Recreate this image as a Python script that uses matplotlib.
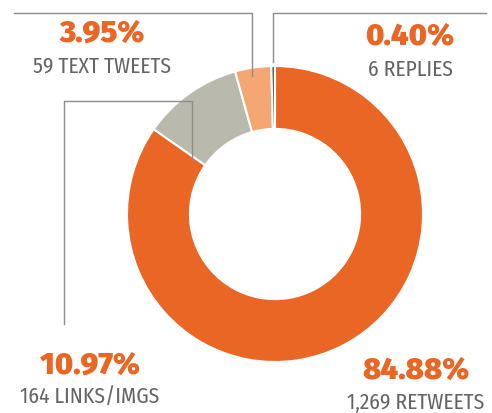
import matplotlib
matplotlib.use('Agg')
from matplotlib import pyplot as plt

# Tweet breakdown
categories = ['RETWEETS', 'LINKS/IMGS', 'TEXT TWEETS', 'REPLIES']
counts = [1269, 164, 59, 6]
shares = [84.88, 10.97, 3.95, 0.40]
count_labels = ['1,269', '164', '59', '6']
colors = ['#E96625', '#BAB9AD', '#F4A673', '#5F6062']

W, H = 492, 414
fig = plt.figure(figsize=(W / 100, H / 100), dpi=100)
ax = fig.add_axes([0, 0, 1, 1])

def fy(y):
    # picture rows are counted from the top
    return H - y

cx, cy, r = 275, fy(215), 148
ax.pie(shares, colors=colors, startangle=90, counterclock=False,
       center=(cx, cy), radius=r, frame=True,
       wedgeprops={'width': r * 0.425, 'edgecolor': 'white', 'linewidth': 1.5})
ax.set_xlim(0, W)
ax.set_ylim(0, H)
ax.set_aspect('equal')
ax.axis('off')

line_args = {'color': '#8C8C8C', 'linewidth': 1.0, 'zorder': 5}
# text tweets leader
ax.plot([14, 252, 252], [fy(14), fy(14), fy(77)], **line_args)
# replies leader
ax.plot([273, 273, 486], [fy(63), fy(14), fy(14)], **line_args)
# links leader
ax.plot([64, 64, 192, 192], [fy(325), fy(102), fy(102), fy(162)], **line_args)

pct_args = {'color': '#E96625', 'fontsize': 22, 'fontweight': 'black',
            'family': ['Fira Sans', 'Lato', 'DejaVu Sans'],
            'ha': 'center', 'va': 'center'}
lab_args = {'color': '#646464', 'fontsize': 15.5,
            'family': ['Fira Sans Condensed', 'Lato', 'DejaVu Sans'],
            'ha': 'center', 'va': 'center'}

label_pos = {
    'RETWEETS': (416, 371, 403),
    'LINKS/IMGS': (90, 365, 397),
    'TEXT TWEETS': (102, 33, 66),
    'REPLIES': (410, 37, 70),
}
for cat, n, s in zip(categories, count_labels, shares):
    x, y1, y2 = label_pos[cat]
    ax.text(x, fy(y1), '%.2f%%' % s, **pct_args)
    ax.text(x, fy(y2), '%s %s' % (n, cat), **lab_args)

fig.savefig('out.png', dpi=100)
